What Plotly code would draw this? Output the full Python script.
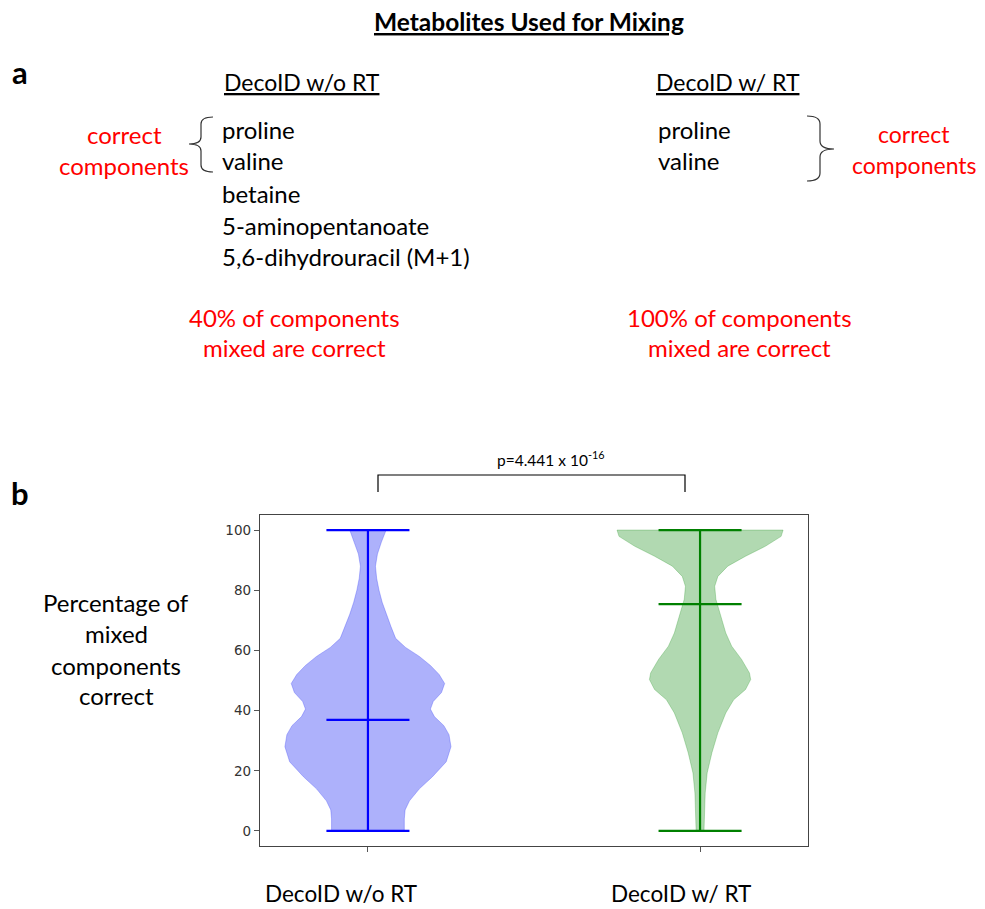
import plotly.graph_objects as go

# ---------------- data ----------------
groups = ["DecoID w/o RT", "DecoID w/ RT"]
positions = [1, 2]
means = [36.9, 75.4]
mins = [0, 0]
maxs = [100, 100]

# violin density profiles (relative half-width, largest = widest)
blue_y = [0, 4, 7, 10, 14, 18, 23, 28, 32, 35, 38, 40.5, 43, 46, 49, 52, 55, 58,
          61, 64, 68, 72, 76, 80, 84, 88, 92, 96, 100]
blue_d = [92, 92, 94, 105, 130, 163, 198, 210, 205, 192, 168, 158, 165, 186, 194,
          180, 158, 130, 95, 70, 58, 46, 36, 28, 22, 19, 24, 34, 46]
green_y = [0, 6, 12.6, 19.3, 26, 32.6, 39.2, 43.6, 47, 50.3, 52.5, 57, 61.4, 65.8,
           72.4, 77, 81.3, 84.6, 88, 91.3, 94.6, 97.9, 100]
green_d = [10, 11, 13, 18, 30, 45, 65, 85, 115, 128, 125, 105, 80, 65, 50, 40, 37,
           45, 70, 115, 165, 205, 210]

y_ticks = [0, 20, 40, 60, 80, 100]

left_list = ["proline", "valine", "betaine", "5-aminopentanoate", "5,6-dihydrouracil (M+1)"]
right_list = ["proline", "valine"]

# ---------------- layout helpers ----------------
OFF = 8                      # page body margin
W, H = 985 - OFF, 909 - OFF
PL, PR, PT, PB = 260, 808, 515, 846   # plot area in page pixels


def px(x):
    return (x - PL) / (PR - PL)


def py(y):
    return (PB - y) / (PB - PT)


FONT = "Lato"
BLUE = "rgb(0,0,255)"
GREEN = "rgb(0,128,0)"
BLUE_FILL = "rgba(60,70,245,0.42)"
GREEN_FILL = "rgba(40,150,40,0.36)"
MAXW = 0.25
CAP = 0.125

fig = go.Figure()


def add_violin(pos, ys, ds, fill):
    dmax = max(ds)
    w = [d / dmax * MAXW for d in ds]
    xs = [pos + v for v in w] + [pos - v for v in reversed(w)]
    yy = list(ys) + list(reversed(ys))
    fig.add_trace(go.Scatter(x=xs, y=yy, fill="toself", fillcolor=fill, mode="lines",
                             line=dict(color=fill, width=0.8), hoverinfo="skip"))


add_violin(positions[0], blue_y, blue_d, BLUE_FILL)
add_violin(positions[1], green_y, green_d, GREEN_FILL)

for pos, mn, mx, me, col in zip(positions, mins, maxs, means, [BLUE, GREEN]):
    lx = [pos, pos, None, pos - CAP, pos + CAP, None, pos - CAP, pos + CAP, None, pos - CAP, pos + CAP]
    ly = [mn, mx, None, mn, mn, None, mx, mx, None, me, me]
    fig.add_trace(go.Scatter(x=lx, y=ly, mode="lines", line=dict(color=col, width=2.2),
                             hoverinfo="skip"))

fig.update_xaxes(range=[0.675, 2.325], tickvals=positions, showticklabels=False,
                 ticks="outside", ticklen=5, tickcolor="#555", showline=True,
                 linecolor="#444", linewidth=1.3, mirror=True, showgrid=False,
                 zeroline=False)
fig.update_yaxes(range=[-5, 105], tickvals=y_ticks, ticks="outside", ticklen=5,
                 tickcolor="#555", showline=True, linecolor="#444", linewidth=1.3,
                 mirror=True, showgrid=False, zeroline=False,
                 tickfont=dict(family="DejaVu Sans", size=13.5, color="#333"))

ann = []


def text(x, y, t, size=24, color="black", xanchor="center", bold=False):
    if bold:
        t = "<b>" + t + "</b>"
    ann.append(dict(x=px(x), y=py(y), xref="paper", yref="paper", text=t, showarrow=False,
                    xanchor=xanchor, yanchor="middle",
                    font=dict(family=FONT, size=size, color=color)))


RED = "rgb(255,0,0)"
text(529, 22, "<u>Metabolites Used for Mixing</u>", size=24.5, bold=True)
text(20, 72, "a", size=31, bold=True)
text(302, 82, "<u>DecoID w/o RT</u>", size=23)
text(728, 82, "<u>DecoID w/ RT</u>", size=23)

left_ys = [130, 160, 193, 225, 256]
for t, y in zip(left_list, left_ys):
    text(220, y, t, xanchor="left")
for t, y in zip(right_list, [130, 160]):
    text(656, y, t, xanchor="left")

text(124, 134, "correct", color=RED)
text(124, 165, "components", color=RED)
text(914, 134, "correct", size=23, color=RED)
text(914, 165, "components", size=23, color=RED)

text(294, 317, "40% of components", color=RED)
text(294, 347, "mixed are correct", color=RED)
text(739, 317, "100% of components", color=RED)
text(739, 347, "mixed are correct", color=RED)

text(20, 493, "b", size=31, bold=True)
text(551, 458, "p=4.441 x 10<sup>-16</sup>", size=15.5)

for t, y in zip(["Percentage of", "mixed", "components", "correct"], [602, 633, 665, 695]):
    text(116, y, t)

text(341, 893, groups[0], size=22.5)
text(681, 893, groups[1], size=22.5)


def path(points):
    s = ""
    for cmd, pts in points:
        s += cmd + " " + " ".join(f"{px(a):.5f},{py(b):.5f}" for a, b in pts) + " "
    return s.strip()


shapes = []
# significance bracket
shapes.append(dict(type="path", xref="paper", yref="paper",
                   path=path([("M", [(378, 492)]), ("L", [(378, 475)]), ("L", [(685, 475)]),
                              ("L", [(685, 492)])]),
                   line=dict(color="black", width=1.2)))
# left brace  {
shapes.append(dict(type="path", xref="paper", yref="paper",
                   path=path([("M", [(213, 117)]), ("Q", [(201, 117), (201, 124)]),
                              ("L", [(201, 137)]), ("Q", [(201, 144), (189, 144)]),
                              ("Q", [(201, 144), (201, 151)]), ("L", [(201, 165)]),
                              ("Q", [(201, 172), (213, 172)])]),
                   line=dict(color="#333", width=1.2)))
# right brace }
shapes.append(dict(type="path", xref="paper", yref="paper",
                   path=path([("M", [(807, 116)]), ("Q", [(820, 116), (820, 124)]),
                              ("L", [(820, 141)]), ("Q", [(820, 149), (834, 149)]),
                              ("Q", [(820, 149), (820, 157)]), ("L", [(820, 173)]),
                              ("Q", [(820, 181), (807, 181)])]),
                   line=dict(color="#333", width=1.2)))

fig.update_layout(width=W, height=H,
                  margin=dict(l=PL - OFF, r=W - (PR - OFF), t=PT - OFF, b=H - (PB - OFF)),
                  paper_bgcolor="white", plot_bgcolor="white", showlegend=False,
                  annotations=ann, shapes=shapes)

fig.write_html("out.html")
